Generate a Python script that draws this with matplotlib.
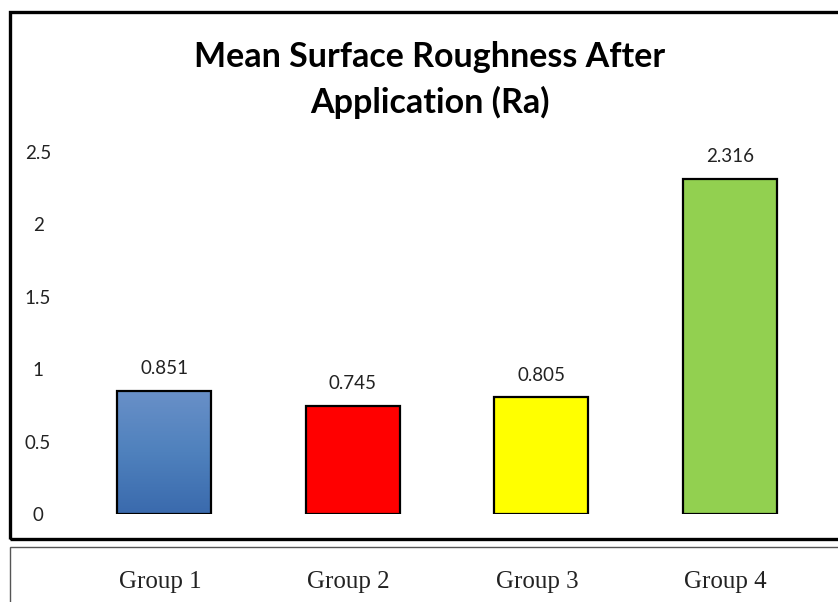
import numpy as np
import matplotlib
matplotlib.use("Agg")
import matplotlib.pyplot as plt
from matplotlib.patches import Rectangle
from matplotlib.colors import LinearSegmentedColormap
from matplotlib.transforms import ScaledTranslation

# data
groups = ["Group 1", "Group 2", "Group 3", "Group 4"]
ra_values = [0.851, 0.745, 0.805, 2.316]
bar_colors = ["#4f81bd", "#ff0000", "#ffff00", "#92d050"]
y_ticks = [0, 0.5, 1, 1.5, 2, 2.5]
y_tick_labels = ["0", "0.5", "1", "1.5", "2", "2.5"]

W, H = 838, 602
fig = plt.figure(figsize=(W / 100, H / 100), dpi=100)

# chart frame (thick black) and lower label box (thin grey)
fig.patches.append(Rectangle((10 / W, 1 - 539 / H), 840 / W, 527 / H,
                             transform=fig.transFigure, fill=False,
                             edgecolor="black", linewidth=2.4))
fig.patches.append(Rectangle((10 / W, -0.05), 840 / W, (1 - 547 / H) + 0.05,
                             transform=fig.transFigure, fill=False,
                             edgecolor="#555555", linewidth=1.0))

ax = fig.add_axes([70 / W, 1 - 514 / H, 754 / W, 362 / H])
x = np.arange(len(groups))
bars = ax.bar(x, ra_values, width=0.5, color=bar_colors,
              edgecolor="black", linewidth=1.6, zorder=3)

# gradient on first bar
b = bars[0]
grad = np.linspace(0, 1, 256).reshape(-1, 1)
cmap = LinearSegmentedColormap.from_list("blu", ["#3a6aad", "#4f81bd", "#6990c8"])
b.set_facecolor("none")
im = ax.imshow(grad, cmap=cmap, origin="lower", aspect="auto",
               extent=[b.get_x(), b.get_x() + b.get_width(), 0, b.get_height()],
               zorder=2)
im.set_clip_path(b)

ax.set_xlim(-0.5, len(groups) - 0.5)
ax.set_ylim(0, 2.5)
for s in ax.spines.values():
    s.set_visible(False)

ax.set_yticks(y_ticks, y_tick_labels)
ax.tick_params(axis="y", length=0, pad=23, labelsize=13.5, labelcolor="#222222")
for lab in ax.get_yticklabels():
    lab.set_family("Lato")
    lab.set_horizontalalignment("center")

ax.set_xticks(x, groups)
ax.tick_params(axis="x", length=0, pad=41, labelsize=18, labelcolor="#222222")
shift = ScaledTranslation(-4 / 100, 0, fig.dpi_scale_trans)
for lab in ax.get_xticklabels():
    lab.set_family("Liberation Serif")
    lab.set_transform(lab.get_transform() + shift)

ax.bar_label(bars, labels=[f"{v:.3f}" for v in ra_values], padding=10,
             fontsize=13.5, family="Lato", color="#222222")

fig.text(430 / W, 1 - 80 / H, "Mean Surface Roughness After\nApplication (Ra)",
         ha="center", va="center", fontsize=24.5, fontweight="bold",
         family="Lato", linespacing=1.45)

fig.savefig("out.png", dpi=100)
